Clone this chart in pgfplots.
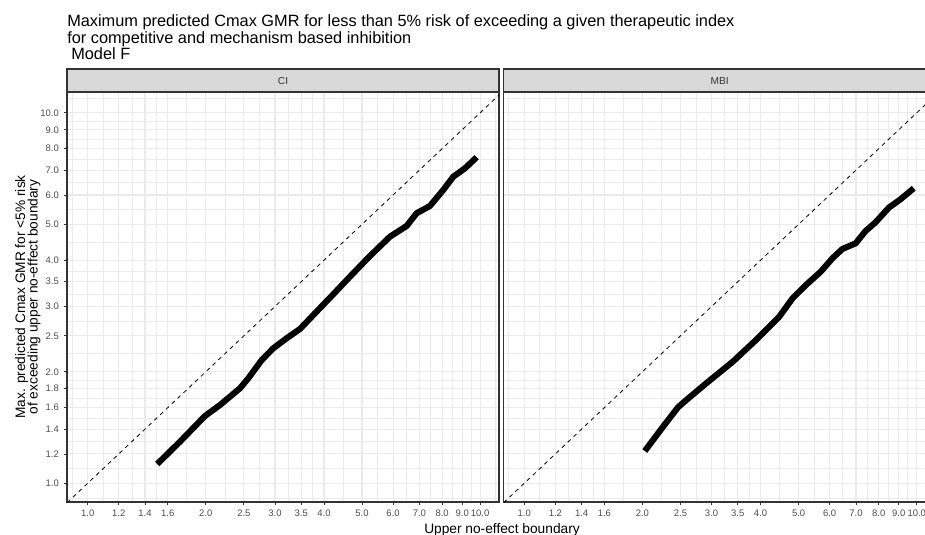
\documentclass[border=0pt]{standalone}
\usepackage{fontspec}
\setmainfont{Liberation Sans}
\usepackage{pgfplots}
\usepackage{pgfplotstable}
\pgfplotsset{compat=1.18}

\definecolor{ggGrid}{HTML}{EBEBEB}
\definecolor{ggBorder}{HTML}{333333}
\definecolor{ggText}{HTML}{4D4D4D}
\definecolor{ggStrip}{HTML}{D9D9D9}
\definecolor{ggStripText}{HTML}{333333}

% Competitive inhibition (CI)
\pgfplotstableread{
x      y
1.504  1.127
1.719  1.295
1.990  1.519
2.174  1.627
2.444  1.805
2.566  1.920
2.776  2.151
2.971  2.314
3.214  2.463
3.475  2.609
3.831  2.906
4.225  3.237
4.659  3.612
5.240  4.108
5.891  4.630
6.497  4.949
6.889  5.356
7.448  5.604
8.053  6.189
8.542  6.722
9.148  7.083
9.797  7.585
}\ciTable

% Mechanism based inhibition (MBI)
\pgfplotstableread{
x      y
2.028  1.222
2.258  1.422
2.465  1.604
2.588  1.678
2.909  1.862
3.399  2.129
3.896  2.437
4.465  2.817
4.827  3.158
5.220  3.429
5.694  3.725
6.097  4.048
6.464  4.289
6.991  4.444
7.407  4.797
7.857  5.064
8.491  5.546
9.091  5.842
9.826  6.255
}\mbiTable

\tikzset{
  refline/.style={black, line width=0.6pt, dash pattern=on 3pt off 3pt},
  curveline/.style={black, line width=4.6pt, line join=round},
}

\begin{document}
\begin{tikzpicture}
\useasboundingbox (0,0) rectangle (693.75pt,-401.25pt);
\clip (0,0) rectangle (693.75pt,-401.25pt);

% Left facet: CI
\begin{axis}[name=ci, at={(50.25pt,-69pt)}, anchor=north west,
    xmode=log, ymode=log,
    scale only axis, width=324pt, height=307.5pt,
    xmin=0.8857, xmax=11.17, ymin=0.890, ymax=11.38,
    xtick={1,1.2,1.4,1.6,2,2.5,3,3.5,4,5,6,7,8,9,10},
    xticklabels={1.0,1.2,1.4,1.6,2.0,2.5,3.0,3.5,4.0,5.0,6.0,7.0,8.0,9.0,10.0},
    ytick={1,1.2,1.4,1.6,1.8,2,2.5,3,3.5,4,5,6,7,8,9,10},
    yticklabels={1.0,1.2,1.4,1.6,1.8,2.0,2.5,3.0,3.5,4.0,5.0,6.0,7.0,8.0,9.0,10.0},
    minor xtick={0.9129,1.0954,1.2961,1.4967,1.7889,2.2361,2.7386,3.2404,3.7417,4.4721,5.4772,6.4807,7.4833,8.4853,9.4868,10.955},
    minor ytick={0.9129,1.0954,1.2961,1.4967,1.6971,1.8974,2.2361,2.7386,3.2404,3.7417,4.4721,5.4772,6.4807,7.4833,8.4853,9.4868,10.955},
    grid=both,
    major grid style={draw=ggGrid, line width=0.85pt},
    minor grid style={draw=ggGrid, line width=0.5pt},
    axis line style={draw=ggBorder, line width=0.9pt},
    tick align=outside, xtick pos=bottom, ytick pos=left,
    major tick length=2.6pt, minor tick length=0pt,
    major tick style={draw=ggBorder, line width=0.6pt},
    minor tick style={draw=none},
    /pgf/number format/assume math mode=true,
    xticklabel style={font=\fontsize{7.1}{8}\selectfont, text=ggText},
    yticklabel style={font=\fontsize{7.1}{8}\selectfont, text=ggText},
  ]
  \addplot[refline] coordinates {(0.8,0.8) (12,12)};
  \addplot[curveline] table {\ciTable};
\end{axis}

% Right facet: MBI (y ticks sit on the far side, outside the page)
\begin{axis}[name=mbi, at={(377.7pt,-69pt)}, anchor=north west,
    xmode=log, ymode=log,
    scale only axis, width=324pt, height=307.5pt,
    xmin=0.8857, xmax=11.17, ymin=0.890, ymax=11.38,
    xtick={1,1.2,1.4,1.6,2,2.5,3,3.5,4,5,6,7,8,9,10},
    xticklabels={1.0,1.2,1.4,1.6,2.0,2.5,3.0,3.5,4.0,5.0,6.0,7.0,8.0,9.0,10.0},
    ytick={1,1.2,1.4,1.6,1.8,2,2.5,3,3.5,4,5,6,7,8,9,10},
    yticklabels={},
    minor xtick={0.9129,1.0954,1.2961,1.4967,1.7889,2.2361,2.7386,3.2404,3.7417,4.4721,5.4772,6.4807,7.4833,8.4853,9.4868,10.955},
    minor ytick={0.9129,1.0954,1.2961,1.4967,1.6971,1.8974,2.2361,2.7386,3.2404,3.7417,4.4721,5.4772,6.4807,7.4833,8.4853,9.4868,10.955},
    grid=both,
    major grid style={draw=ggGrid, line width=0.85pt},
    minor grid style={draw=ggGrid, line width=0.5pt},
    axis line style={draw=ggBorder, line width=0.9pt},
    tick align=outside, xtick pos=bottom, ytick pos=right,
    major tick length=2.6pt, minor tick length=0pt,
    major tick style={draw=ggBorder, line width=0.6pt},
    minor tick style={draw=none},
    /pgf/number format/assume math mode=true,
    xticklabel style={font=\fontsize{7.1}{8}\selectfont, text=ggText},
  ]
  \addplot[refline] coordinates {(0.8,0.8) (12,12)};
  \addplot[curveline] table {\mbiTable};
\end{axis}

% Facet strips
\foreach \f/\lab in {ci/CI, mbi/MBI}{
  \draw[fill=ggStrip, draw=ggBorder, line width=0.9pt]
    (\f.north west) rectangle ([yshift=17.25pt]\f.north east);
  \node[font=\fontsize{7.6}{8}\selectfont, text=ggStripText]
    at ([yshift=8.6pt]\f.north) {\lab};
}

% Titles
\begin{scope}[every node/.style={anchor=base west, inner sep=0pt, font=\fontsize{12.25}{14}\selectfont}]
\node at (50.25pt,-20.1pt)
  {Maximum predicted Cmax GMR for less than 5\% risk of exceeding a given therapeutic index};
\node at (50.25pt,-32.5pt)
  {for competitive and mechanism based inhibition};
\node at (53.25pt,-45pt)
  {Model F};
\end{scope}

% Axis titles
\node[anchor=base, font=\fontsize{10.3}{12}\selectfont] at (376.5pt,-400.3pt)
  {Upper no-effect boundary};
\node[anchor=base, rotate=90, font=\fontsize{10.3}{12}\selectfont] at (18.75pt,-222.75pt)
  {Max. predicted Cmax GMR for <5\% risk};
\node[anchor=base, rotate=90, font=\fontsize{10.3}{12}\selectfont] at (28.2pt,-222.75pt)
  {of exceeding upper no-effect boundary};
\end{tikzpicture}
\end{document}
